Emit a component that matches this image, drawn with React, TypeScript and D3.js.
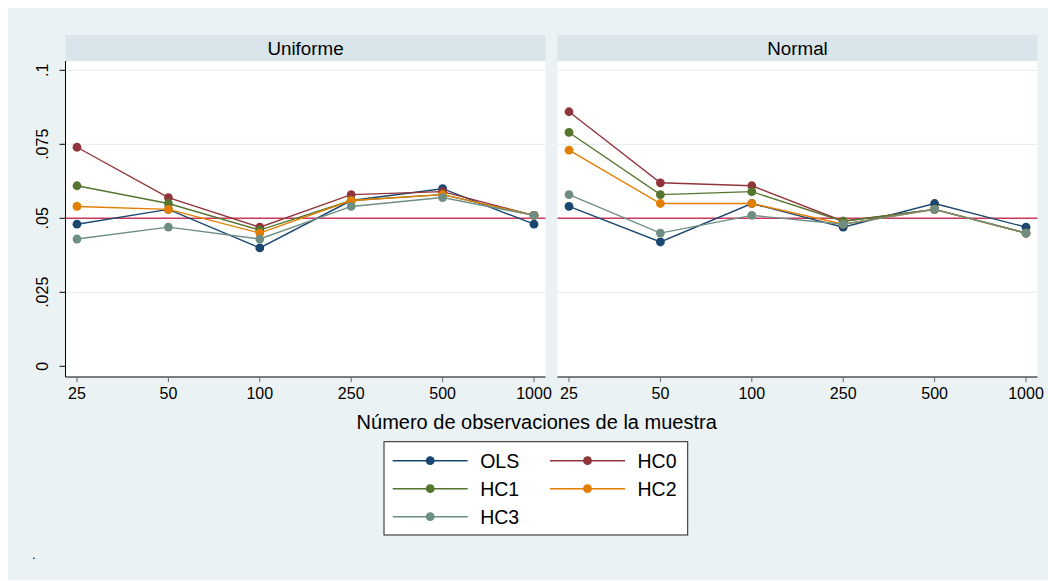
import React from "react";
import * as d3 from "d3";

const categories = ["25", "50", "100", "250", "500", "1000"];
const panelNames = ["Uniforme", "Normal"];
const seriesNames = ["OLS", "HC0", "HC1", "HC2", "HC3"];
const seriesColors = ["#1a476f", "#90353b", "#55752f", "#e37e00", "#6e8e84"];

const uniformeOLS = [0.048, 0.053, 0.040, 0.056, 0.060, 0.048];
const uniformeHC0 = [0.074, 0.057, 0.047, 0.058, 0.059, 0.051];
const uniformeHC1 = [0.061, 0.055, 0.046, 0.056, 0.058, 0.051];
const uniformeHC2 = [0.054, 0.053, 0.045, 0.056, 0.058, 0.051];
const uniformeHC3 = [0.043, 0.047, 0.043, 0.054, 0.057, 0.051];

const normalOLS = [0.054, 0.042, 0.055, 0.047, 0.055, 0.047];
const normalHC0 = [0.086, 0.062, 0.061, 0.049, 0.053, 0.045];
const normalHC1 = [0.079, 0.058, 0.059, 0.049, 0.053, 0.045];
const normalHC2 = [0.073, 0.055, 0.055, 0.048, 0.053, 0.045];
const normalHC3 = [0.058, 0.045, 0.051, 0.048, 0.053, 0.045];

const yTicks = [0, 0.025, 0.05, 0.075, 0.1];
const yTickLabels = ["0", ".025", ".05", ".075", ".1"];
const yGrid = [0.025, 0.05, 0.075, 0.1];
const refValue = 0.05;
const xTitle = "Número de observaciones de la muestra";
const note = ".";

const panelData = [
  [uniformeOLS, uniformeHC0, uniformeHC1, uniformeHC2, uniformeHC3],
  [normalOLS, normalHC0, normalHC1, normalHC2, normalHC3],
];

const FONT = "Liberation Sans, Arial, Helvetica, sans-serif";

export default function App() {
  const W = 1048;
  const H = 581;
  const panelX = [65.5, 557.5];
  const panelW = 480;
  const plotTop = 61;
  const plotBottom = 377;
  const stripTop = 35;

  const y = d3.scaleLinear().domain([0, 0.1]).range([366.3, 70.3]);

  const legendItems = seriesNames.map((name, i) => {
    const col = i % 2;
    const row = Math.floor(i / 2);
    return { name, color: seriesColors[i], col, row };
  });

  return (
    <div>
      <style>{`body{margin:0;overflow:hidden}`}</style>
      <svg width={W} height={H} style={{ display: "block" }} fontFamily={FONT}>
        <rect x={0} y={0} width={W} height={H} fill="#ffffff" />
        <rect x={8} y={8} width={W - 8} height={572} fill="#eaf2f3" />
        {panelNames.map((pname, pi) => {
          const x0 = panelX[pi];
          const x = d3
            .scalePoint<string>()
            .domain(categories)
            .range([x0 + 11.5, x0 + panelW - 11.5]);
          const line = d3
            .line<number>()
            .x((_, i) => x(categories[i]) as number)
            .y((d) => y(d));
          return (
            <g key={pname}>
              <rect x={x0} y={stripTop} width={panelW} height={plotTop - stripTop} fill="#d9e5eb" />
              <text x={x0 + panelW / 2} y={54.5} fontSize={18.8} textAnchor="middle" fill="#000">
                {pname}
              </text>
              <rect x={x0} y={plotTop} width={panelW} height={plotBottom - plotTop} fill="#ffffff" />
              {yGrid.map((v) => (
                <line key={v} x1={x0} x2={x0 + panelW} y1={y(v)} y2={y(v)} stroke="#e6eff1" strokeWidth={1.2} />
              ))}
              <line x1={x0} x2={x0 + panelW} y1={y(refValue)} y2={y(refValue)} stroke="#cd3a5c" strokeWidth={1.6} />
              {panelData[pi].map((vals, si) => (
                <g key={si}>
                  <path d={line(vals) || ""} fill="none" stroke={seriesColors[si]} strokeWidth={1.4} />
                  {vals.map((v, i) => (
                    <circle key={i} cx={x(categories[i]) as number} cy={y(v)} r={4.4} fill={seriesColors[si]} />
                  ))}
                </g>
              ))}
              <line x1={x0} x2={x0 + panelW} y1={plotBottom} y2={plotBottom} stroke="#000" strokeWidth={1} />
              {categories.map((c) => (
                <g key={c}>
                  <line x1={x(c) as number} x2={x(c) as number} y1={plotBottom} y2={plotBottom + 5} stroke="#666" strokeWidth={1} />
                  <text x={x(c) as number} y={399.3} fontSize={16} textAnchor="middle" fill="#000">
                    {c}
                  </text>
                </g>
              ))}
              {pi === 0 && (
                <g>
                  <line x1={x0} x2={x0} y1={plotTop} y2={plotBottom} stroke="#000" strokeWidth={1} />
                  {yTicks.map((v, i) => (
                    <g key={v}>
                      <line x1={x0 - 6} x2={x0} y1={y(v)} y2={y(v)} stroke="#000" strokeWidth={1} />
                      <text
                        transform={`translate(48.3,${y(v)}) rotate(-90)`}
                        fontSize={16}
                        textAnchor="middle"
                        fill="#000"
                      >
                        {yTickLabels[i]}
                      </text>
                    </g>
                  ))}
                </g>
              )}
            </g>
          );
        })}
        <text x={536.7} y={428.5} fontSize={20} textAnchor="middle" fill="#000">
          {xTitle}
        </text>
        <rect x={384} y={441.7} width={303.7} height={93.3} fill="#ffffff" stroke="#222" strokeWidth={1} />
        {legendItems.map((it) => {
          const lx = it.col === 0 ? 392.7 : 550;
          const ly = 460.7 + it.row * 28;
          return (
            <g key={it.name}>
              <line x1={lx} x2={lx + 75} y1={ly} y2={ly} stroke={it.color} strokeWidth={1.4} />
              <circle cx={lx + 37.5} cy={ly} r={4.4} fill={it.color} />
              <text x={lx + 87.5} y={ly + 6.8} fontSize={19.5} fill="#000">
                {it.name}
              </text>
            </g>
          );
        })}
        <text x={32} y={559} fontSize={13} fill="#000">
          {note}
        </text>
      </svg>
    </div>
  );
}
